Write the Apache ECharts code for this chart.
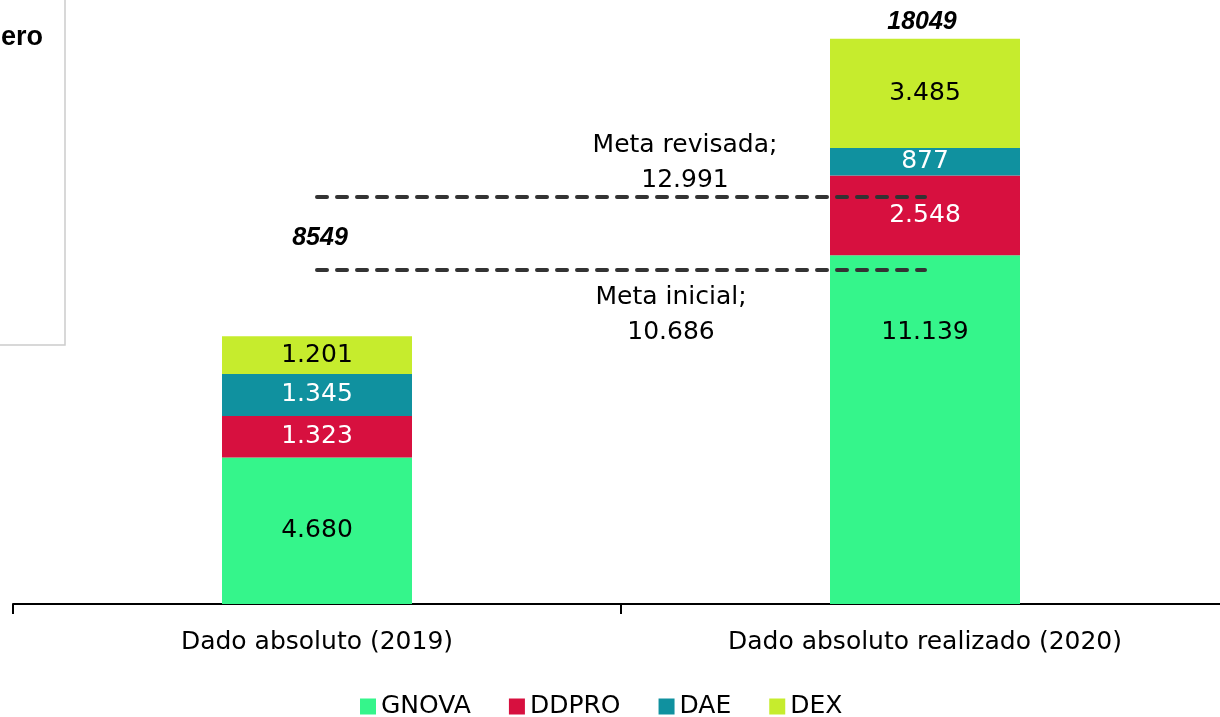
<!DOCTYPE html>
<html>
<head>
<meta charset="utf-8">
<script src="https://cdn.jsdelivr.net/npm/echarts@6/dist/echarts.min.js"></script>
<style>
  html, body { margin: 0; padding: 0; background: #fff; }
  #chart { width: 1220px; height: 717px; }
</style>
</head>
<body>
<div id="chart"></div>
<script>
const categories = ['Dado absoluto (2019)', 'Dado absoluto realizado (2020)']
const seriesNames = ['GNOVA', 'DDPRO', 'DAE', 'DEX']
const gnova = [4680, 11139]
const ddpro = [1323, 2548]
const dae = [1345, 877]
const dex = [1201, 3485]
const metaInicial = 10686
const metaRevisada = 12991

const colors = ['#35F58B', '#D7103F', '#10919F', '#C6EC2D']
const labelColors = ['#000', '#fff', '#fff', '#000']
const font = '"DejaVu Sans", sans-serif'

const fmt = (v) => v.toLocaleString('de-DE')
const totals = categories.map((_, i) => gnova[i] + ddpro[i] + dae[i] + dex[i])

const chart = echarts.init(document.getElementById('chart'))

const stackSeries = [gnova, ddpro, dae, dex].map((values, idx) => ({
  name: seriesNames[idx],
  type: 'bar',
  stack: 'total',
  barWidth: 190,
  data: values.slice(),
  itemStyle: { color: colors[idx] },
  label: {
    show: true,
    position: 'inside',
    color: labelColors[idx],
    fontFamily: font,
    fontSize: 25,
    formatter: (p) => fmt(p.value),
  },
}))

// the 2020 GNOVA label sits higher up in the bar
stackSeries[0].data[1] = { value: gnova[1], label: { offset: [0, -97] } }

// dashed target lines, drawn on the first series
stackSeries[0].markLine = {
  silent: true,
  symbol: ['none', 'none'],
  lineStyle: { color: '#333', width: 4, type: [10, 10], cap: 'round' },
  label: {
    color: '#000',
    fontFamily: font,
    fontSize: 25,
    lineHeight: 35,
    align: 'center',
  },
  data: [
    [
      { coord: [0, metaRevisada], label: { position: 'insideMiddleTop', distance: -1, offset: [64, 0], formatter: 'Meta revisada;\n' + fmt(metaRevisada) } },
      { coord: [1, metaRevisada] },
    ],
    [
      { coord: [0, metaInicial], label: { position: 'insideMiddleBottom', distance: 11, offset: [50, 0], formatter: 'Meta inicial;\n' + fmt(metaInicial) } },
      { coord: [1, metaInicial] },
    ],
  ],
}

const option = {
  backgroundColor: '#fff',
  animation: false,
  graphic: [
    {
      type: 'rect',
      shape: { x: -10, y: -10, width: 75, height: 355 },
      style: { fill: '#fff', stroke: '#cccccc', lineWidth: 1.5 },
    },
    {
      type: 'text',
      x: 43,
      y: 38,
      style: {
        text: 'Número',
        align: 'right',
        verticalAlign: 'middle',
        font: 'bold 27px "Liberation Sans", Arial, sans-serif',
        fill: '#000',
      },
    },
  ],
  legend: {
    data: seriesNames,
    top: 689,
    left: 355,
    itemWidth: 16,
    itemHeight: 16,
    itemGap: 38,
    icon: 'rect',
    textStyle: { fontFamily: font, fontSize: 25, color: '#000' },
  },
  grid: { left: 13, width: 1216, top: 9, bottom: 113, outerBoundsMode: 'none' },
  xAxis: {
    type: 'category',
    data: categories,
    axisLine: { lineStyle: { color: '#000', width: 2 } },
    axisTick: { show: true, length: 10, lineStyle: { color: '#000', width: 2 } },
    axisLabel: { color: '#000', fontFamily: font, fontSize: 25, margin: 26 },
  },
  yAxis: {
    type: 'value',
    min: 0,
    max: 19000,
    show: false,
    splitLine: { show: false },
  },
  series: [
    ...stackSeries,
    {
      name: 'Total',
      type: 'bar',
      stack: 'total',
      barWidth: 190,
      data: [
        { value: 0, label: { offset: [3, -80] } },
        { value: 0, label: { offset: [-3, 2] } },
      ],
      itemStyle: { color: 'transparent' },
      label: {
        show: true,
        position: 'top',
        distance: 6,
        color: '#000',
        fontFamily: '"Liberation Sans", Arial, sans-serif',
        fontStyle: 'italic',
        fontWeight: 'bold',
        fontSize: 25,
        formatter: (p) => String(totals[p.dataIndex]),
      },
    },
  ],
}

chart.setOption(option)
</script>
</body>
</html>
